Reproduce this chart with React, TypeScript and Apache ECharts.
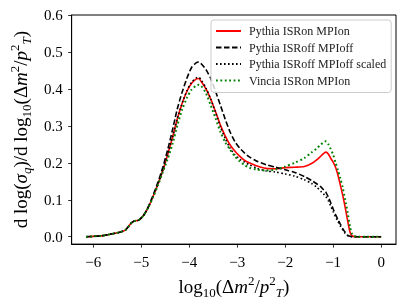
import React, { useEffect, useRef } from "react";
import * as echarts from "echarts";

const xs = [-6.15, -6.0, -5.8, -5.6, -5.45, -5.33, -5.25, -5.2, -5.15, -5.05, -4.95, -4.85, -4.75, -4.65, -4.55, -4.45, -4.35, -4.25, -4.15, -4.05, -3.95, -3.85, -3.8, -3.75, -3.65, -3.55, -3.45, -3.35, -3.25, -3.15, -3.05, -2.95, -2.85, -2.75, -2.6, -2.4, -2.2, -2.0, -1.8, -1.6, -1.45, -1.35, -1.25, -1.2, -1.15, -1.1, -1.05, -1.0, -0.95, -0.9, -0.85, -0.8, -0.75, -0.7, -0.65, -0.6, -0.5, -0.3, -0.1, 0.0];

const pythiaOn = [0.0, 0.001, 0.003, 0.008, 0.012, 0.018, 0.03, 0.038, 0.042, 0.045, 0.058, 0.08, 0.11, 0.143, 0.18, 0.222, 0.268, 0.318, 0.36, 0.393, 0.415, 0.427, 0.428, 0.42, 0.4, 0.372, 0.338, 0.302, 0.273, 0.249, 0.232, 0.218, 0.207, 0.2, 0.192, 0.185, 0.184, 0.187, 0.188, 0.19, 0.198, 0.207, 0.219, 0.225, 0.229, 0.224, 0.212, 0.202, 0.188, 0.167, 0.14, 0.112, 0.08, 0.045, 0.013, 0.002, 0.0, 0.0, 0.0, 0.0];

const pythiaOff = [0.0, 0.001, 0.003, 0.008, 0.012, 0.018, 0.03, 0.038, 0.042, 0.045, 0.058, 0.082, 0.113, 0.148, 0.188, 0.235, 0.288, 0.345, 0.39, 0.428, 0.458, 0.471, 0.473, 0.468, 0.452, 0.428, 0.393, 0.356, 0.318, 0.284, 0.258, 0.24, 0.227, 0.216, 0.205, 0.195, 0.188, 0.181, 0.174, 0.163, 0.152, 0.144, 0.134, 0.127, 0.12, 0.107, 0.092, 0.075, 0.06, 0.047, 0.034, 0.022, 0.012, 0.004, 0.001, 0.0, 0.0, 0.0, 0.0, 0.0];

const pythiaOffScaled = [0.0, 0.001, 0.003, 0.008, 0.012, 0.018, 0.03, 0.038, 0.042, 0.045, 0.058, 0.08, 0.11, 0.143, 0.18, 0.222, 0.268, 0.318, 0.36, 0.394, 0.418, 0.43, 0.431, 0.424, 0.402, 0.372, 0.336, 0.298, 0.266, 0.24, 0.222, 0.21, 0.202, 0.195, 0.186, 0.178, 0.175, 0.17, 0.164, 0.154, 0.144, 0.135, 0.122, 0.116, 0.108, 0.097, 0.083, 0.068, 0.054, 0.041, 0.029, 0.018, 0.009, 0.003, 0.001, 0.0, 0.0, 0.0, 0.0, 0.0];

const vinciaOn = [0.0, 0.001, 0.003, 0.008, 0.012, 0.018, 0.03, 0.038, 0.042, 0.045, 0.058, 0.08, 0.108, 0.14, 0.175, 0.21, 0.25, 0.3, 0.343, 0.375, 0.398, 0.409, 0.411, 0.408, 0.388, 0.355, 0.32, 0.284, 0.256, 0.236, 0.218, 0.204, 0.194, 0.187, 0.182, 0.179, 0.182, 0.19, 0.2, 0.213, 0.228, 0.238, 0.25, 0.256, 0.258, 0.25, 0.237, 0.222, 0.2, 0.18, 0.158, 0.133, 0.1, 0.067, 0.028, 0.006, 0.0, 0.0, 0.0, 0.0];

const seriesNames = ["Pythia ISRon MPIon", "Pythia ISRoff MPIoff", "Pythia ISRoff MPIoff scaled", "Vincia ISRon MPIon"];
const xTicks = [-6, -5, -4, -3, -2, -1, 0];
const yTicks = [0, 0.1, 0.2, 0.3, 0.4, 0.5, 0.6];

const FONT = "'Liberation Serif', 'DejaVu Serif', serif";

const mathRich = (size: number) => {
  const small = Math.round(size * 0.7);
  return {
    r: { fontFamily: FONT, fontSize: size, color: "#000", lineHeight: size + 6 },
    i: { fontFamily: FONT, fontSize: size, fontStyle: "italic", color: "#000", lineHeight: size + 6 },
    sub: { fontFamily: FONT, fontSize: small, color: "#000", verticalAlign: "bottom", lineHeight: small },
    subi: { fontFamily: FONT, fontSize: small, fontStyle: "italic", color: "#000", verticalAlign: "bottom", lineHeight: small },
    sup: { fontFamily: FONT, fontSize: small, color: "#000", verticalAlign: "top", lineHeight: small },
  };
};

export default function App() {
  const ref = useRef<HTMLDivElement>(null);
  useEffect(() => {
    if (!ref.current) return;
    const chart = echarts.init(ref.current, null, { renderer: "svg" });
    const toPairs = (arr: number[]) => xs.map((x, i) => [x, arr[i]]);
    const styles = [
      { color: "#ff0000", type: "solid" as any, width: 1.6 },
      { color: "#000000", type: [5.5, 2.5] as any, width: 1.6 },
      { color: "#000000", type: [1.6, 2.4] as any, width: 1.6 },
      { color: "#008000", type: [1.8, 2.6] as any, width: 2 },
    ];
    const datas = [pythiaOn, pythiaOff, pythiaOffScaled, vinciaOn];
    chart.setOption({
      animation: false,
      grid: { left: 61, right: 10, top: 15, bottom: 56.5, show: true, borderColor: "#000", borderWidth: 1, backgroundColor: "transparent" },
      legend: {
        orient: "vertical",
        left: 211,
        top: 20,
        padding: [5, 5, 6, 4],
        itemWidth: 25,
        itemHeight: 12,
        itemGap: 4.5,
        borderColor: "#cccccc",
        borderWidth: 1,
        borderRadius: 3,
        backgroundColor: "rgba(255,255,255,0.8)",
        itemStyle: { opacity: 0 },
        textStyle: { fontFamily: FONT, fontSize: 12, color: "#222", padding: [0, 0, 0, 3] },
        data: seriesNames,
      },
      xAxis: {
        type: "value",
        min: -6.45,
        max: 0.31,
        splitLine: { show: false },
        axisLine: { show: true, onZero: false, lineStyle: { color: "#000", width: 1 } },
        axisTick: { show: true, length: 3.5, customValues: xTicks, lineStyle: { color: "#000", width: 0.8 } },
        axisLabel: {
          customValues: xTicks,
          margin: 10,
          fontFamily: FONT,
          fontSize: 15,
          color: "#000",
          formatter: (v: number) => (v < 0 ? "\u2212" + Math.abs(v) : String(v)),
        },
        name: "{r|log}{sub|10}{r|(Δ}{i|m}{sup|2}{r|/}{i|p}{sup|2}{subi|T}{r|)}",
        nameLocation: "middle",
        nameGap: 25,
        nameTextStyle: { rich: mathRich(19) },
      },
      yAxis: {
        type: "value",
        min: -0.02,
        max: 0.6,
        splitLine: { show: false },
        axisLine: { show: true, onZero: false, lineStyle: { color: "#000", width: 1 } },
        axisTick: { show: true, length: 3.5, customValues: yTicks, lineStyle: { color: "#000", width: 0.8 } },
        axisLabel: {
          customValues: yTicks,
          margin: 9,
          fontFamily: FONT,
          fontSize: 15,
          color: "#000",
          formatter: (v: number) => v.toFixed(1),
        },
        name: "{r|d log(}{i|σ}{subi|q}{r|)/d log}{sub|10}{r|(Δ}{i|m}{sup|2}{r|/}{i|p}{sup|2}{subi|T}{r|)}",
        nameLocation: "middle",
        nameRotate: 90,
        nameGap: 36,
        nameTextStyle: { rich: mathRich(19) },
      },
      series: datas.map((d, k) => ({
        name: seriesNames[k],
        type: "line",
        data: toPairs(d),
        symbol: "none",
        smooth: 0.25,
        lineStyle: styles[k],
        itemStyle: { color: styles[k].color },
        z: 2 + k,
      })),
    });
    return () => chart.dispose();
  }, []);
  return <div ref={ref} style={{ position: "fixed", left: 0, top: 0, width: 406, height: 304 }} />;
}
